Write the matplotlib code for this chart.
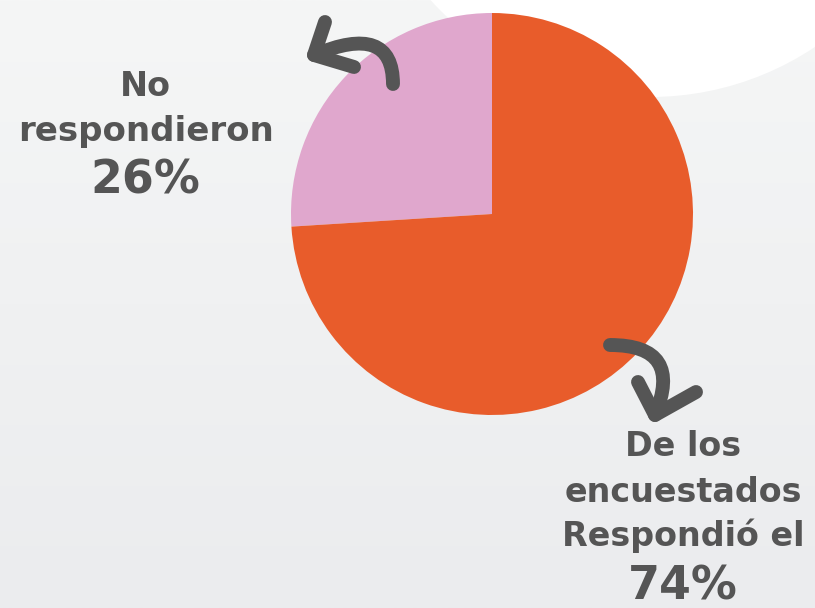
import numpy as np
import matplotlib.pyplot as plt
from matplotlib.patches import Circle, PathPatch
from matplotlib.path import Path
from matplotlib.colors import LinearSegmentedColormap

labels = ['No respondieron', 'Respondió']
values = [26, 74]
colors = ['#E0A7CD', '#E85C2B']
text_col = '#555555'

W, H = 815, 608
fig = plt.figure(figsize=(W / 100, H / 100), dpi=100, facecolor='#F0F1F2')

# background: soft vertical gradient plus white blob in the upper right
bg = fig.add_axes([0, 0, 1, 1], zorder=0)
grad = LinearSegmentedColormap.from_list('bg', ['#F5F6F6', '#EBECEE'])
bg.imshow(np.linspace(0, 1, 256).reshape(-1, 1), cmap=grad, aspect='auto',
          extent=[0, W, H, 0], zorder=0)
bg.add_patch(Circle((650, -200), 297, facecolor='white', edgecolor='none', zorder=1))
bg.set_xlim(0, W)
bg.set_ylim(H, 0)
bg.axis('off')

# pie centred at (492, 214) with radius 201 px (image coords)
cx, cy, r = 492, 214, 201
ax = fig.add_axes([(cx - r) / W, (H - cy - r) / H, 2 * r / W, 2 * r / H], zorder=1)
ax.pie(values, colors=colors, startangle=90, counterclock=True, radius=1,
       wedgeprops=dict(linewidth=0))
ax.set_xlim(-1, 1)
ax.set_ylim(-1, 1)
ax.set_aspect('equal')
ax.axis('off')

# overlay for arrows, image pixel coords
ov = fig.add_axes([0, 0, 1, 1], zorder=2)
ov.set_xlim(0, W)
ov.set_ylim(H, 0)
ov.axis('off')
ov.patch.set_alpha(0)

def curved_arrow(start, ctrl, tip, arm1, arm2):
    shaft = Path([start, ctrl, tip], [Path.MOVETO, Path.CURVE3, Path.CURVE3])
    ov.add_patch(PathPatch(shaft, facecolor='none', edgecolor=text_col, lw=10,
                           capstyle='round', joinstyle='round'))
    head = Path([arm1, tip, arm2], [Path.MOVETO, Path.LINETO, Path.LINETO])
    ov.add_patch(PathPatch(head, facecolor='none', edgecolor=text_col, lw=10,
                           capstyle='round', joinstyle='round'))

curved_arrow((393, 84), (393, 22), (314, 55), (325, 22), (354, 67))
curved_arrow((610, 345), (684, 345), (655, 415), (638, 382), (696, 392))

font = dict(family='DejaVu Sans', weight='heavy', color=text_col, ha='center', va='center',
            zorder=3)

def px(x, y):
    return x / W, 1 - y / H

fig.text(*px(145, 86), 'No', fontsize=24, **font)
fig.text(*px(146, 132), 'respondieron', fontsize=24.5, **font)
fig.text(*px(145, 181), f'{values[0]}%', fontsize=33, **font)

fig.text(*px(683, 447), 'De los', fontsize=24, **font)
fig.text(*px(683, 492), 'encuestados', fontsize=24, **font)
fig.text(*px(683, 536), 'Respondió el', fontsize=24, **font)
fig.text(*px(683, 587), f'{values[1]}%', fontsize=33, **font)

fig.savefig('out.png', dpi=100, facecolor=fig.get_facecolor())
